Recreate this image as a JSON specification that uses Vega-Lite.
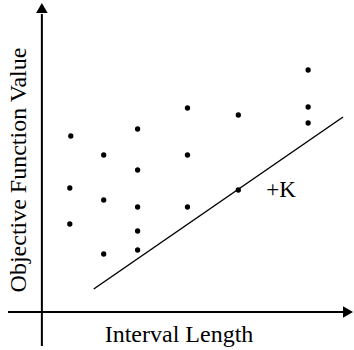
{
  "$schema": "https://vega.github.io/schema/vega-lite/v6.json",
  "width": 354,
  "height": 350,
  "autosize": {"type": "fit", "contains": "padding"},
  "padding": 0,
  "background": "white",
  "config": {"view": {"stroke": null}},
  "datasets": {
    "points": [
      {"x": 2.9, "y": 17.6}, {"x": 2.8, "y": 12.4}, {"x": 2.8, "y": 8.8},
      {"x": 6.2, "y": 15.7}, {"x": 6.2, "y": 11.2}, {"x": 6.2, "y": 5.8},
      {"x": 9.6, "y": 18.3}, {"x": 9.6, "y": 14.2}, {"x": 9.6, "y": 10.5}, {"x": 9.6, "y": 8.1}, {"x": 9.6, "y": 6.2},
      {"x": 14.6, "y": 20.4}, {"x": 14.6, "y": 15.7}, {"x": 14.6, "y": 10.5},
      {"x": 19.7, "y": 19.7}, {"x": 19.7, "y": 12.2},
      {"x": 26.7, "y": 24.2}, {"x": 26.7, "y": 20.5}, {"x": 26.7, "y": 18.9}
    ],
    "axes": [
      {"x": -3.4, "y": 0, "x2": 30.2, "y2": 0},
      {"x": 0, "y": -3.4, "x2": 0, "y2": 29.8}
    ],
    "kline": [{"x": 5.2, "y": 2.3, "x2": 30.2, "y2": 19.5}]
  },
  "layer": [
    {
      "data": {"name": "axes"},
      "mark": {"type": "rule", "strokeWidth": 2, "color": "black"},
      "encoding": {
        "x": {"field": "x", "type": "quantitative", "scale": {"domain": [-4.2, 31.2], "nice": false, "zero": false}, "axis": null},
        "y": {"field": "y", "type": "quantitative", "scale": {"domain": [-3.8, 31.2], "nice": false, "zero": false}, "axis": null},
        "x2": {"field": "x2"},
        "y2": {"field": "y2"}
      }
    },
    {
      "data": {"values": [{"x": 30.7, "y": 0}]},
      "mark": {"type": "point", "shape": "triangle-right", "filled": true, "color": "black", "opacity": 1, "size": 135},
      "encoding": {
        "x": {"field": "x", "type": "quantitative"},
        "y": {"field": "y", "type": "quantitative"}
      }
    },
    {
      "data": {"values": [{"x": 0, "y": 30.4}]},
      "mark": {"type": "point", "shape": "triangle-up", "filled": true, "color": "black", "opacity": 1, "size": 135},
      "encoding": {
        "x": {"field": "x", "type": "quantitative"},
        "y": {"field": "y", "type": "quantitative"}
      }
    },
    {
      "data": {"name": "kline"},
      "mark": {"type": "rule", "strokeWidth": 1.5, "color": "black"},
      "encoding": {
        "x": {"field": "x", "type": "quantitative"},
        "y": {"field": "y", "type": "quantitative"},
        "x2": {"field": "x2"},
        "y2": {"field": "y2"}
      }
    },
    {
      "data": {"name": "points"},
      "mark": {"type": "circle", "color": "black", "opacity": 1, "size": 28},
      "encoding": {
        "x": {"field": "x", "type": "quantitative"},
        "y": {"field": "y", "type": "quantitative"}
      }
    },
    {
      "data": {"values": [{"x": 13.75, "y": -3.0, "label": "Interval Length"}]},
      "mark": {"type": "text", "font": "Liberation Serif", "fontSize": 24, "align": "center", "baseline": "alphabetic", "color": "black"},
      "encoding": {
        "x": {"field": "x", "type": "quantitative"},
        "y": {"field": "y", "type": "quantitative"},
        "text": {"field": "label"}
      }
    },
    {
      "data": {"values": [{"x": -1.6, "y": 14.2, "label": "Objective Function Value"}]},
      "mark": {"type": "text", "font": "Liberation Serif", "fontSize": 24, "angle": 270, "align": "center", "baseline": "alphabetic", "color": "black"},
      "encoding": {
        "x": {"field": "x", "type": "quantitative"},
        "y": {"field": "y", "type": "quantitative"},
        "text": {"field": "label"}
      }
    },
    {
      "data": {"values": [{"x": 22.5, "y": 11.5, "label": "+K"}]},
      "mark": {"type": "text", "font": "Liberation Serif", "fontSize": 23, "align": "left", "baseline": "alphabetic", "color": "black"},
      "encoding": {
        "x": {"field": "x", "type": "quantitative"},
        "y": {"field": "y", "type": "quantitative"},
        "text": {"field": "label"}
      }
    }
  ]
}
